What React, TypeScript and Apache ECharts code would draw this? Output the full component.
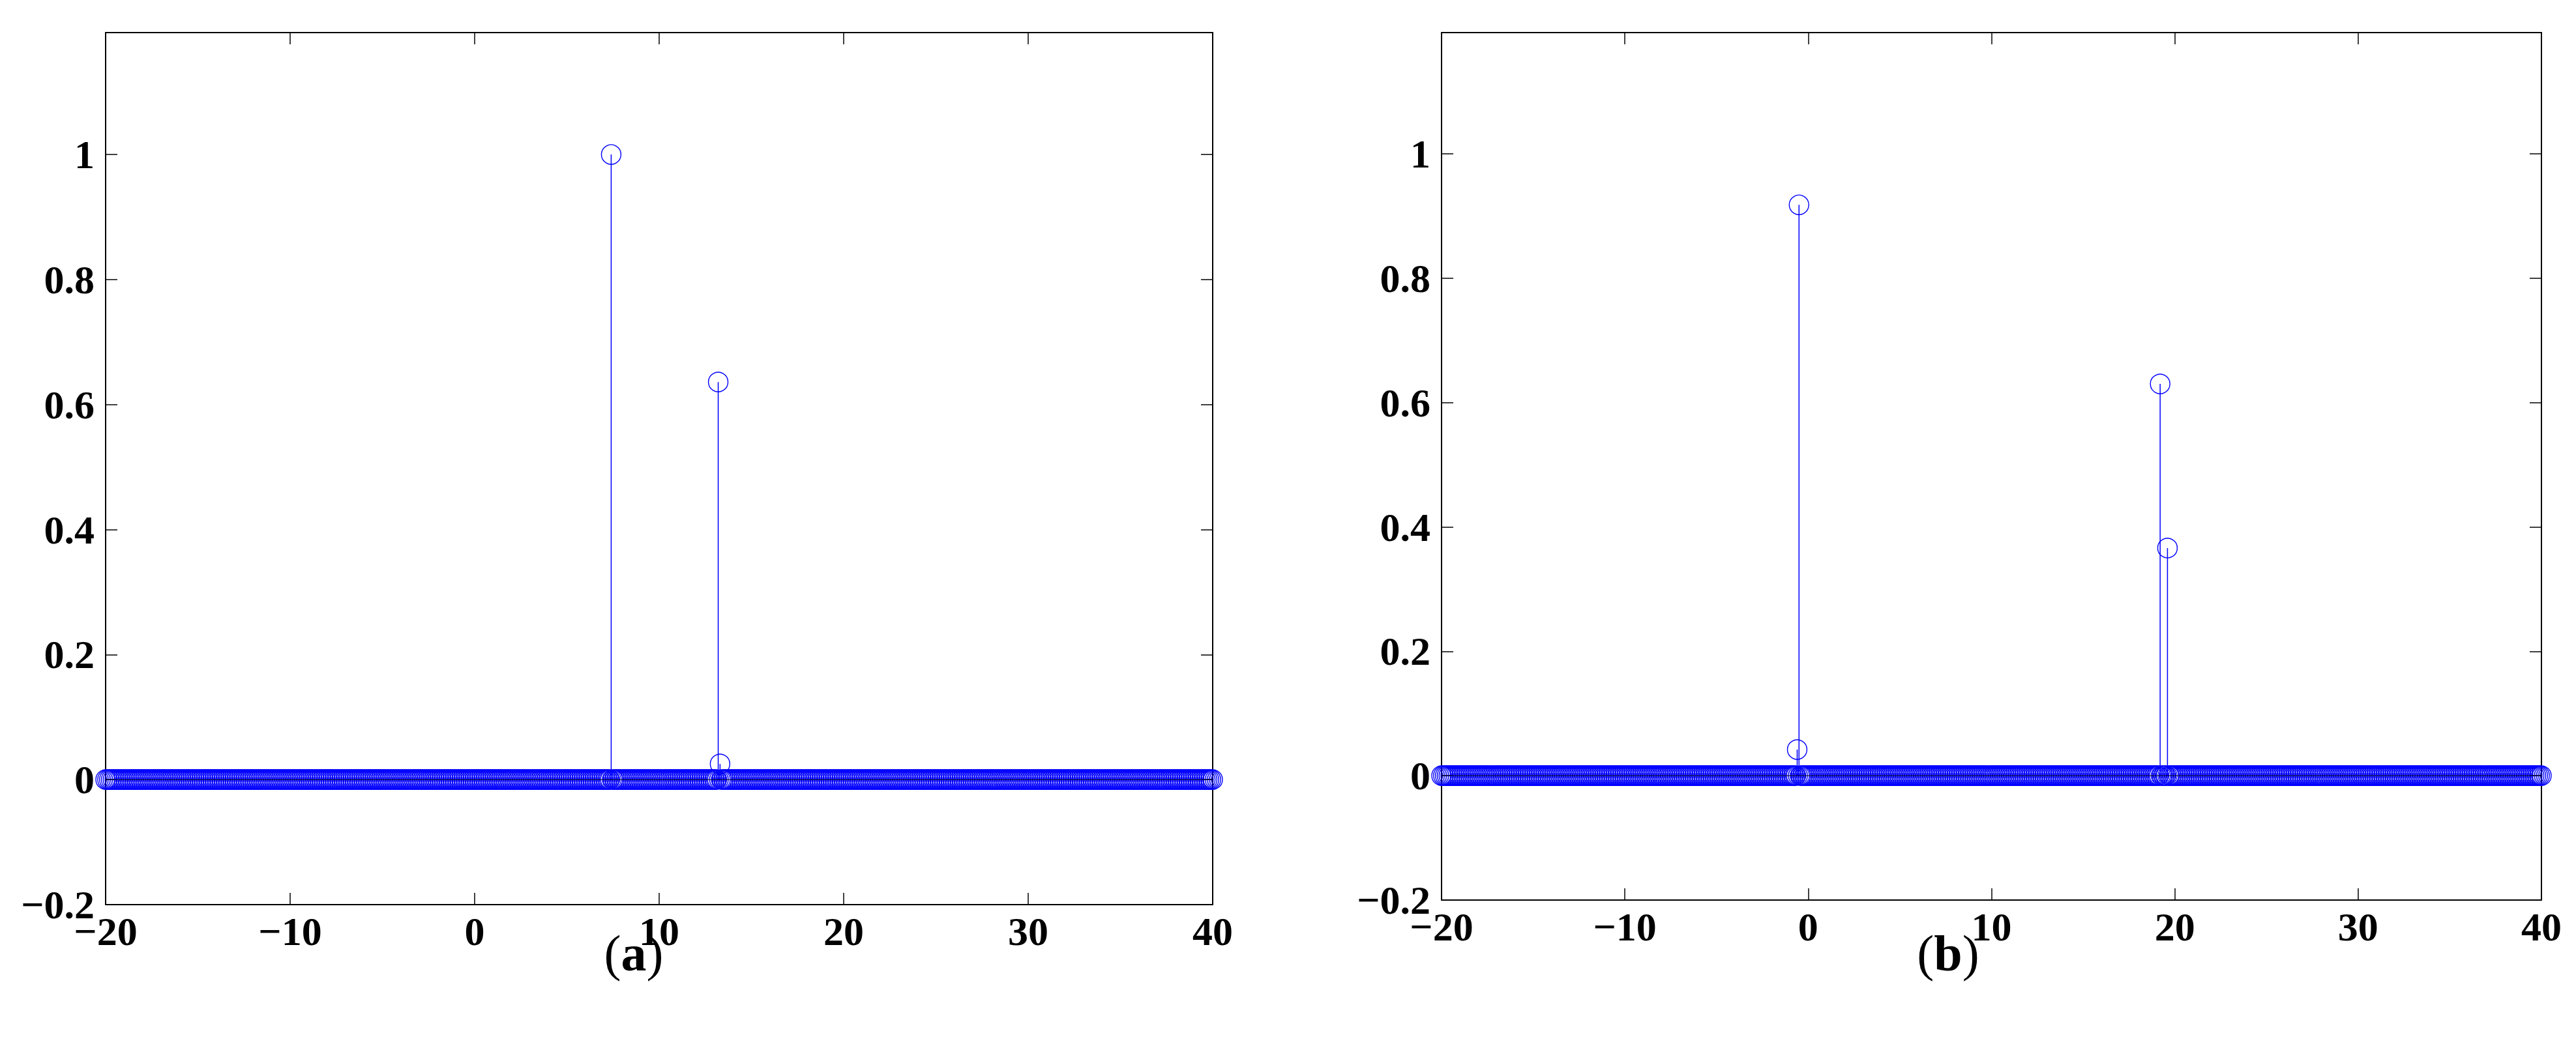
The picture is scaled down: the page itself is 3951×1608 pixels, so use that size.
import React, { useEffect, useRef } from "react";
import * as echarts from "echarts";

// sampling grid of the discrete signal (all samples are zero except the spikes)
const xMin = -20;
const xMax = 40;
const sampleStep = 0.1;

const xTicks = [-20, -10, 0, 10, 20, 30, 40];
const xTickLabels = ["\u221220", "\u221210", "0", "10", "20", "30", "40"];
const yTicks = [-0.2, 0, 0.2, 0.4, 0.6, 0.8, 1];
const yTickLabels = ["\u22120.2", "0", "0.2", "0.4", "0.6", "0.8", "1"];

// panel (a) non-zero samples
const spikeXA = [7.4, 13.2, 13.3];
const spikeYA = [1.0, 0.636, 0.025];
// panel (b) non-zero samples
const spikeXB = [-0.6, -0.5, 19.2, 19.6];
const spikeYB = [0.042, 0.918, 0.63, 0.366];

const panelLabels = ["a", "b"];

function buildSignal(sx: number[], sy: number[]): number[][] {
  const out: number[][] = [];
  const n = Math.round((xMax - xMin) / sampleStep);
  for (let k = 0; k <= n; k++) {
    const x = Math.round((xMin + k * sampleStep) * 10) / 10;
    let y = 0;
    for (let j = 0; j < sx.length; j++) {
      if (Math.abs(sx[j] - x) < 1e-6) y = sy[j];
    }
    out.push([x, y]);
  }
  return out;
}

const BLUE = "#0000ff";
const FONT = "Liberation Serif";

function labelFor(ticks: number[], labels: string[]) {
  return (v: number) => {
    for (let i = 0; i < ticks.length; i++) {
      if (Math.abs(ticks[i] - v) < 1e-6) return labels[i];
    }
    return "";
  };
}

export default function App() {
  const ref = useRef<HTMLDivElement>(null);
  useEffect(() => {
    if (!ref.current) return;
    const chart = echarts.init(ref.current, null, { renderer: "svg" });
    const dataA = buildSignal(spikeXA, spikeYA);
    const dataB = buildSignal(spikeXB, spikeYB);

    const grids = [
      { left: 162, top: 50, width: 1698, height: 1338 },
      { left: 2211, top: 50, width: 1687, height: 1331 },
    ];

    const axisLine = { show: true, onZero: false, lineStyle: { color: "#000", width: 2 } };
    const axisTick = { show: true, inside: true, length: 18, lineStyle: { color: "#000", width: 1.5 } };
    const labelStyle = { fontFamily: FONT, fontWeight: "bold" as const, fontSize: 62, color: "#000" };

    const xAxes: any[] = [];
    const yAxes: any[] = [];
    for (let g = 0; g < 2; g++) {
      xAxes.push({
        type: "value", gridIndex: g, position: "bottom", min: xMin, max: xMax, interval: 10,
        axisLine, axisTick, splitLine: { show: false },
        axisLabel: { ...labelStyle, margin: 10, formatter: labelFor(xTicks, xTickLabels) },
      });
      xAxes.push({
        type: "value", gridIndex: g, position: "top", min: xMin, max: xMax, interval: 10,
        axisLine, axisTick, splitLine: { show: false }, axisLabel: { show: false },
      });
      yAxes.push({
        type: "value", gridIndex: g, position: "left", min: -0.2, max: 1.195, interval: 0.2,
        axisLine, axisTick, splitLine: { show: false },
        axisLabel: { ...labelStyle, margin: 17, showMaxLabel: false, formatter: labelFor(yTicks, yTickLabels) },
      });
      yAxes.push({
        type: "value", gridIndex: g, position: "right", min: -0.2, max: 1.195, interval: 0.2,
        axisLine, axisTick, splitLine: { show: false }, axisLabel: { show: false },
      });
    }

    const series: any[] = [];
    [dataA, dataB].forEach((data, g) => {
      series.push({
        type: "custom",
        xAxisIndex: g * 2,
        yAxisIndex: g * 2,
        data,
        encode: { x: 0, y: 1 },
        silent: true,
        z: 2,
        renderItem: (params: any, api: any) => {
          const x = api.value(0);
          const y = api.value(1);
          const p0 = api.coord([x, 0]);
          const p1 = api.coord([x, y]);
          return {
            type: "line",
            shape: { x1: p0[0], y1: p0[1], x2: p1[0], y2: p1[1] },
            style: { stroke: BLUE, lineWidth: 1.5 },
          };
        },
      });
      series.push({
        type: "scatter",
        xAxisIndex: g * 2,
        yAxisIndex: g * 2,
        data,
        symbol: "circle",
        symbolSize: 30,
        clip: false,
        silent: true,
        z: 3,
        itemStyle: { color: "rgba(0,0,0,0)", borderColor: BLUE, borderWidth: 1.4, opacity: 1 },
      });
      series.push({
        type: "line",
        xAxisIndex: g * 2,
        yAxisIndex: g * 2,
        data: [[xMin, 0], [xMax, 0]],
        symbol: "none",
        silent: true,
        z: 4,
        lineStyle: { color: "#000", width: 1 },
      });
    });

    const labelPos = [
      { x: 972, y: 1462 },
      { x: 2988, y: 1462 },
    ];

    chart.setOption({
      animation: false,
      backgroundColor: "#ffffff",
      grid: grids,
      xAxis: xAxes,
      yAxis: yAxes,
      series,
      graphic: panelLabels.map((l, i) => ({
        type: "text",
        x: labelPos[i].x,
        y: labelPos[i].y,
        style: {
          text: "{p|(}{b|" + l + "}{p|)}",
          align: "center",
          verticalAlign: "middle",
          fontFamily: FONT,
          fontSize: 78,
          fill: "#000",
          rich: {
            p: { fontFamily: FONT, fontSize: 78, fontWeight: "normal", fill: "#000" },
            b: { fontFamily: FONT, fontSize: 78, fontWeight: "bold", fill: "#000" },
          },
        },
      })),
    });
    return () => chart.dispose();
  }, []);

  return (
    <div
      ref={ref}
      style={{ position: "absolute", left: 0, top: 0, width: 3951, height: 1608, background: "#fff" }}
    />
  );
}
